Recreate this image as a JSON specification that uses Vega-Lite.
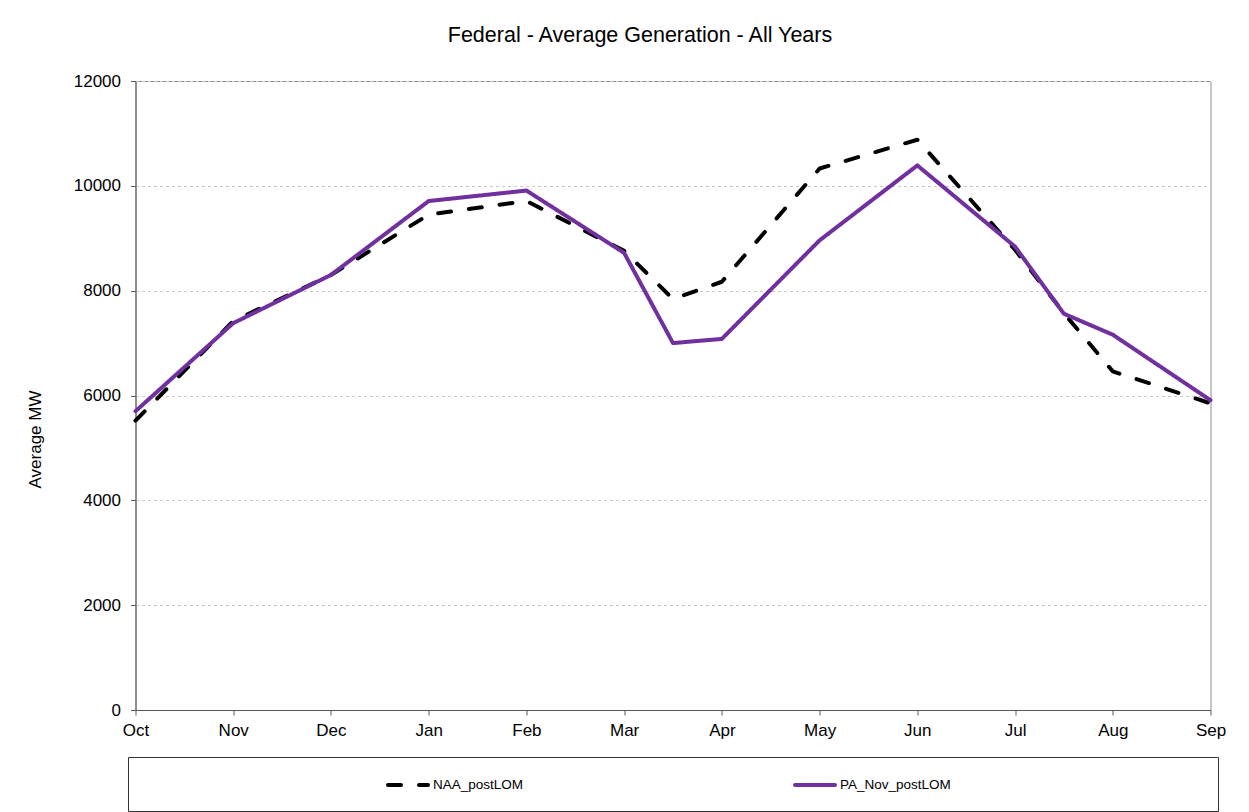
{
  "$schema": "https://vega.github.io/schema/vega-lite/v6.json",
  "autosize": {"type": "pad"},
  "padding": {"left": 26, "top": 24, "right": 0, "bottom": 0},
  "background": "white",
  "bounds": "flush",
  "center": true,
  "spacing": 47,
  "config": {
    "font": "Liberation Sans",
    "view": {"stroke": "#8c8c8c", "strokeWidth": 1}
  },
  "vconcat": [
    {
      "width": 1075,
      "height": 629,
      "title": {
        "text": "Federal - Average Generation - All Years",
        "fontSize": 21.5,
        "font": "Liberation Sans",
        "fontWeight": "normal",
        "color": "#000000",
        "anchor": "middle",
        "dx": -33,
        "offset": 26
      },
      "data": {
        "values": [
          {"month": "Oct", "t": 0, "series": "NAA_postLOM", "mw": 5520},
          {"month": "Nov", "t": 1, "series": "NAA_postLOM", "mw": 7420},
          {"month": "Dec", "t": 2, "series": "NAA_postLOM", "mw": 8300},
          {"month": "Jan", "t": 3, "series": "NAA_postLOM", "mw": 9450},
          {"month": "Feb", "t": 4, "series": "NAA_postLOM", "mw": 9710},
          {"month": "Mar", "t": 5, "series": "NAA_postLOM", "mw": 8760},
          {"month": "Apr1", "t": 5.5, "series": "NAA_postLOM", "mw": 7840},
          {"month": "Apr2", "t": 6, "series": "NAA_postLOM", "mw": 8170},
          {"month": "May", "t": 7, "series": "NAA_postLOM", "mw": 10330},
          {"month": "Jun", "t": 8, "series": "NAA_postLOM", "mw": 10880},
          {"month": "Jul", "t": 9, "series": "NAA_postLOM", "mw": 8780},
          {"month": "Aug1", "t": 9.5, "series": "NAA_postLOM", "mw": 7570},
          {"month": "Aug2", "t": 10, "series": "NAA_postLOM", "mw": 6460},
          {"month": "Sep", "t": 11, "series": "NAA_postLOM", "mw": 5850},
          {"month": "Oct", "t": 0, "series": "PA_Nov_postLOM", "mw": 5700},
          {"month": "Nov", "t": 1, "series": "PA_Nov_postLOM", "mw": 7380},
          {"month": "Dec", "t": 2, "series": "PA_Nov_postLOM", "mw": 8300},
          {"month": "Jan", "t": 3, "series": "PA_Nov_postLOM", "mw": 9710},
          {"month": "Feb", "t": 4, "series": "PA_Nov_postLOM", "mw": 9910},
          {"month": "Mar", "t": 5, "series": "PA_Nov_postLOM", "mw": 8720},
          {"month": "Apr1", "t": 5.5, "series": "PA_Nov_postLOM", "mw": 7000},
          {"month": "Apr2", "t": 6, "series": "PA_Nov_postLOM", "mw": 7080},
          {"month": "May", "t": 7, "series": "PA_Nov_postLOM", "mw": 8960},
          {"month": "Jun", "t": 8, "series": "PA_Nov_postLOM", "mw": 10390},
          {"month": "Jul", "t": 9, "series": "PA_Nov_postLOM", "mw": 8840},
          {"month": "Aug1", "t": 9.5, "series": "PA_Nov_postLOM", "mw": 7560},
          {"month": "Aug2", "t": 10, "series": "PA_Nov_postLOM", "mw": 7160},
          {"month": "Sep", "t": 11, "series": "PA_Nov_postLOM", "mw": 5910}
        ]
      },
      "mark": {"type": "line", "strokeWidth": 4, "strokeCap": "round", "strokeJoin": "round"},
      "encoding": {
        "x": {
          "field": "t",
          "type": "quantitative",
          "scale": {"domain": [0, 11], "nice": false, "zero": false},
          "axis": {
            "values": [0, 1, 2, 3, 4, 5, 6, 7, 8, 9, 10, 11],
            "labelExpr": "['Oct','Nov','Dec','Jan','Feb','Mar','Apr','May','Jun','Jul','Aug','Sep'][datum.value]",
            "title": null,
            "grid": false,
            "tickSize": 5,
            "tickColor": "#595959",
            "domainColor": "#595959",
            "labelFontSize": 17,
            "labelColor": "#000000",
            "labelPadding": 7,
            "labelFlush": false,
            "labelOverlap": false
          }
        },
        "y": {
          "field": "mw",
          "type": "quantitative",
          "scale": {"domain": [0, 12000], "nice": false},
          "axis": {
            "values": [0, 2000, 4000, 6000, 8000, 10000, 12000],
            "format": "d",
            "title": "Average MW",
            "titleFontSize": 17,
            "titleFontWeight": "normal",
            "titleColor": "#000000",
            "titleX": -100,
            "titleY": 358,
            "titleAlign": "center",
            "titleBaseline": "middle",
            "titleAngle": -90,
            "labelFontSize": 17,
            "labelColor": "#000000",
            "labelPadding": 10,
            "tickSize": 5,
            "tickColor": "#595959",
            "domainColor": "#595959",
            "grid": true,
            "gridColor": "#c8c8c8",
            "gridDash": [3, 3]
          }
        },
        "color": {
          "field": "series",
          "type": "nominal",
          "scale": {"domain": ["NAA_postLOM", "PA_Nov_postLOM"], "range": ["#000000", "#7030A0"]},
          "legend": {
            "orient": "none",
            "legendX": 258,
            "legendY": 682,
            "direction": "horizontal",
            "columns": 2,
            "columnPadding": 263,
            "title": null,
            "padding": 0,
            "symbolType": "stroke",
            "symbolSize": 1600,
            "symbolStrokeWidth": 4,
            "labelFontSize": 13.5,
            "labelColor": "#000000",
            "labelOffset": 3,
            "encode": {"symbols": {"update": {"strokeCap": {"value": "round"}}}}
          }
        },
        "strokeDash": {
          "field": "series",
          "type": "nominal",
          "scale": {"domain": ["NAA_postLOM", "PA_Nov_postLOM"], "range": [[13, 18], [1, 0]]},
          "legend": {
            "orient": "none",
            "legendX": 258,
            "legendY": 682,
            "direction": "horizontal",
            "columns": 2,
            "columnPadding": 263,
            "title": null,
            "padding": 0,
            "symbolType": "stroke",
            "symbolSize": 1600,
            "symbolStrokeWidth": 4,
            "labelFontSize": 13.5,
            "labelColor": "#000000",
            "labelOffset": 3,
            "encode": {"symbols": {"update": {"strokeCap": {"value": "round"}}}}
          }
        }
      }
    },
    {
      "width": 1090,
      "height": 54,
      "view": {"stroke": "#333333", "strokeWidth": 1},
      "data": {"values": [{}]},
      "mark": {"type": "text"},
      "encoding": {"text": {"value": ""}}
    }
  ]
}
